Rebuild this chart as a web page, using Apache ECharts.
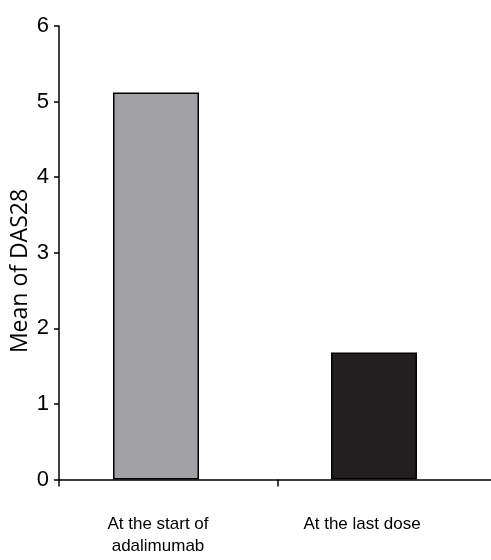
<!DOCTYPE html>
<html>
<head>
<meta charset="utf-8">
<script src="https://cdn.jsdelivr.net/npm/echarts@6/dist/echarts.min.js"></script>
<style>html,body{margin:0;padding:0;background:#fff;}#c{width:491px;height:560px;}</style>
</head>
<body>
<div id="c"></div>
<script>
var categories = ['At the start of\nadalimumab', 'At the last dose'];
var meanDAS28 = [5.12, 1.68];
var barColors = ['#a2a2a6', '#231f20'];
var yTicks = [0, 1, 2, 3, 4, 5, 6];
var yTitle = 'Mean of DAS28';

var font = "'Liberation Sans','Arial',sans-serif";
var labelPad = [[0, 0, 0, 4], [0, 24, 0, 0]];
var chart = echarts.init(document.getElementById('c'), null, {renderer: 'canvas'});
chart.setOption({
  animation: false,
  backgroundColor: '#fff',
  grid: [
    {left: 59, width: 438, top: 26, bottom: 80.5, outerBoundsMode: 'none', containLabel: false},
    {left: 47, width: 436, top: 26, bottom: 80.5, outerBoundsMode: 'none', containLabel: false}
  ],
  xAxis: [
    {type: 'category', gridIndex: 0, data: categories, boundaryGap: true,
     axisLine: {show: true, lineStyle: {color: '#000', width: 1.5}},
     axisTick: {show: true, length: 7, lineStyle: {color: '#000', width: 1.5}},
     axisLabel: {show: false}, splitLine: {show: false}},
    {type: 'category', gridIndex: 1,
     data: categories.map(function (c, i) { return {value: c, textStyle: {padding: labelPad[i]}}; }),
     axisLine: {show: false}, axisTick: {show: false},
     axisLabel: {show: true, margin: 34, color: '#000', fontFamily: font, fontSize: 17, lineHeight: 22},
     splitLine: {show: false}}
  ],
  yAxis: [
    {type: 'value', gridIndex: 0, min: yTicks[0], max: yTicks[yTicks.length - 1], interval: 1,
     axisLine: {show: true, lineStyle: {color: '#000', width: 1.5}},
     axisTick: {show: true, length: 5, lineStyle: {color: '#000', width: 1.5}},
     axisLabel: {show: true, margin: 10, color: '#000', fontFamily: font, fontSize: 22},
     splitLine: {show: false}},
    {type: 'value', gridIndex: 1, min: yTicks[0], max: yTicks[yTicks.length - 1], interval: 1, show: false}
  ],
  graphic: [{
    type: 'text', x: 20, y: 271, rotation: Math.PI / 2,
    style: {text: yTitle, fill: '#000', font: "23px 'Open Sans', sans-serif", align: 'center', verticalAlign: 'middle'}
  }],
  series: [{
    type: 'bar', xAxisIndex: 1, yAxisIndex: 1, barWidth: 86,
    data: meanDAS28.map(function (v, i) {
      return {value: v, itemStyle: {color: barColors[i]}};
    }),
    itemStyle: {borderColor: '#000', borderWidth: 1.5},
    z: 1
  }]
});
</script>
</body>
</html>
